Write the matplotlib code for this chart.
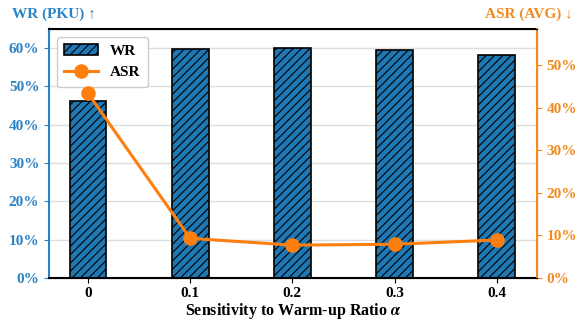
import numpy as np
import matplotlib
matplotlib.use("Agg")
import matplotlib.pyplot as plt
from matplotlib.ticker import PercentFormatter

plt.rcParams['font.family'] = ['Liberation Serif', 'DejaVu Serif']
plt.rcParams['font.weight'] = 'bold'
plt.rcParams['mathtext.fontset'] = 'stix'
plt.rcParams['hatch.linewidth'] = 0.8

ratios = ['0', '0.1', '0.2', '0.3', '0.4']
wr = [46.3, 59.8, 60.0, 59.6, 58.3]
asr = [43.4, 9.3, 7.7, 7.9, 8.9]

blue = '#1f77b4'
orange = '#ff7f0e'
wr_color = '#2b83c6'
asr_color = '#f28a1e'

x = np.arange(len(ratios))

fig = plt.figure(figsize=(5.84, 3.22), dpi=100)
ax = fig.add_axes([0.084, 0.137, 0.835, 0.773])
ax.set_axisbelow(True)
ax.grid(axis='y', color='#dddddd', linewidth=1)
bars = ax.bar(x, wr, width=0.36, color=blue, edgecolor='black', linewidth=1.2,
              hatch='////', label='WR', zorder=2)
ax.set_ylim(0, 65)
ax.set_xlim(-0.38, 4.39)
ax.set_xticks(x)
ax.set_xticklabels(ratios)
ax.yaxis.set_major_formatter(PercentFormatter(decimals=0))
ax.tick_params(axis='y', colors=wr_color, labelsize=11)
ax.tick_params(axis='x', labelsize=11, pad=3)
ax.spines['left'].set_color(wr_color)
ax.spines['left'].set_linewidth(1.5)
ax.spines['bottom'].set_linewidth(1.5)
ax.spines['top'].set_linewidth(1.5)
ax.set_xlabel(r'Sensitivity to Warm-up Ratio $\alpha$', fontsize=11.5,
              fontweight='bold', labelpad=1)

ax2 = ax.twinx()
line, = ax2.plot(x, asr, color=orange, linewidth=2.2, marker='o', markersize=9.5,
                 label='ASR', zorder=3)
ax2.set_ylim(0, 58.5)
ax2.yaxis.set_major_formatter(PercentFormatter(decimals=0))
ax2.tick_params(axis='y', colors=asr_color, labelsize=11)
ax2.spines['right'].set_color(asr_color)
ax2.spines['right'].set_linewidth(1.5)
ax2.spines['left'].set_visible(False)
for lbl in ax.get_yticklabels() + ax2.get_yticklabels() + ax.get_xticklabels():
    lbl.set_fontweight('bold')

fig.text(0.02, 0.955, 'WR (PKU) \u2191', color=wr_color, fontsize=11,
         fontweight='bold', ha='left', va='center')
fig.text(0.98, 0.955, 'ASR (AVG) \u2193', color=asr_color, fontsize=11,
         fontweight='bold', ha='right', va='center')

leg = ax.legend([bars, line], ['WR', 'ASR'], loc='upper left',
                prop={'weight': 'bold', 'size': 11}, handlelength=2.2,
                borderpad=0.5, framealpha=1)

fig.savefig('out.png', dpi=100)
